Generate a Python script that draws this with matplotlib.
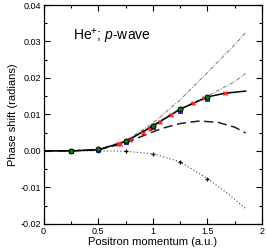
import numpy as np
import matplotlib.pyplot as plt
from matplotlib.ticker import MultipleLocator, FormatStrFormatter

plt.rcParams['font.family'] = ['Liberation Sans', 'DejaVu Sans']
plt.rcParams['mathtext.fontset'] = 'custom'
plt.rcParams['mathtext.rm'] = 'Liberation Sans'
plt.rcParams['mathtext.it'] = 'Liberation Sans:italic'

# solid curve
k_solid = [0.0, 0.25, 0.5, 0.75, 1.0, 1.25, 1.5, 1.66, 1.85]
d_solid = [0.0, 0.0, 0.0003, 0.0025, 0.0068, 0.0114, 0.0148, 0.0158, 0.0164]
# long-dashed curve
k_dash = [0.0, 0.25, 0.5, 0.75, 1.0, 1.1, 1.25, 1.43, 1.6, 1.75, 1.85]
d_dash = [0.0, 0.0, 0.0003, 0.0022, 0.0052, 0.0063, 0.0075, 0.0082, 0.0078, 0.0065, 0.0049]
# dash-dot curves
k_dd = [0.0, 0.25, 0.5, 0.75, 1.0, 1.25, 1.5, 1.75, 1.85]
d_dd_up = [0.0, 0.0, 0.0004, 0.0028, 0.0076, 0.0140, 0.0215, 0.0291, 0.0325]
d_dd_lo = [0.0, 0.0, 0.0004, 0.0027, 0.0071, 0.0116, 0.0150, 0.0190, 0.0212]
# dotted curve with plus markers
k_dot = [0.0, 0.25, 0.5, 0.75, 1.0, 1.25, 1.5, 1.7, 1.85]
d_dot = [0.0, 0.0, 0.0, -0.0001, -0.0008, -0.0030, -0.0076, -0.0120, -0.0158]
k_plus = [0.5, 0.75, 1.0, 1.25, 1.5]
d_plus = [0.0, -0.0001, -0.0008, -0.0030, -0.0076]
# symbols
k_circ = [0.25, 0.5, 0.75, 1.0, 1.25, 1.5]
d_circ = [0.0, 0.0004, 0.0026, 0.0068, 0.0114, 0.0148]
k_sq = [0.25, 0.5, 0.75, 1.0, 1.25, 1.5]
d_sq = [0.0, 0.0002, 0.0025, 0.0066, 0.0110, 0.0143]
k_x = [0.68, 0.7, 0.79, 0.91, 0.97, 1.07, 1.17, 1.37, 1.47, 1.66]
d_x = [0.0019, 0.0020, 0.0031, 0.0048, 0.0059, 0.0080, 0.0098, 0.0132, 0.01455, 0.01575]

fig = plt.figure(figsize=(2.66, 2.52), dpi=100)
ax = fig.add_axes([0.164, 0.112, 0.821, 0.868])

ax.plot(k_dd, d_dd_up, color='#777777', lw=0.7, ls=(0, (4, 1.5, 1, 1.5)))
ax.plot(k_dd, d_dd_lo, color='#777777', lw=0.7, ls=(0, (4, 1.5, 1, 1.5)))
ax.plot(k_dash, d_dash, color='#222222', lw=1.1, ls=(0, (6, 3)))
ax.plot(k_dot, d_dot, color='#444444', lw=0.8, ls=(0, (1, 2)))
ax.plot(k_plus, d_plus, ls='none', marker='+', ms=3.5, mew=0.9, color='black')
ax.plot(k_solid, d_solid, color='black', lw=1.1)
ax.plot(k_x, d_x, ls='none', marker='x', ms=2.5, mew=1.0, color='#ff2020')
ax.plot(k_sq, d_sq, ls='none', marker='s', ms=3.2, mfc='#2040ff', mec='#1020c0', mew=0.6)
ax.plot(k_circ, d_circ, ls='none', marker='o', ms=3.6, mfc='#0a7a0a', mec='black', mew=0.7)

ax.set_xlim(0, 2)
ax.set_ylim(-0.02, 0.04)
ax.xaxis.set_major_locator(MultipleLocator(0.5))
ax.xaxis.set_minor_locator(MultipleLocator(0.25))
ax.yaxis.set_major_locator(MultipleLocator(0.01))
ax.yaxis.set_minor_locator(MultipleLocator(0.005))
ax.yaxis.set_major_formatter(FormatStrFormatter('%.2f'))
ax.set_xticks([0, 0.5, 1, 1.5, 2])
ax.set_xticklabels(['0', '0.5', '1', '1.5', '2'])
ax.tick_params(which='both', direction='in', top=True, right=True, labelsize=6.5, pad=2)
ax.tick_params(which='major', length=4, width=0.8)
ax.tick_params(which='minor', length=2, width=0.8)
for s in ax.spines.values():
    s.set_linewidth(0.9)

ax.set_xlabel('Positron momentum (a.u.)', fontsize=8, labelpad=1)
ax.set_ylabel('Phase shift (radians)', fontsize=8, labelpad=2)
ax.text(0.27, 0.0315, 'He$^{+}$; $p$-wave', fontsize=10, va='center', ha='left')

fig.savefig('out.png', dpi=100)
